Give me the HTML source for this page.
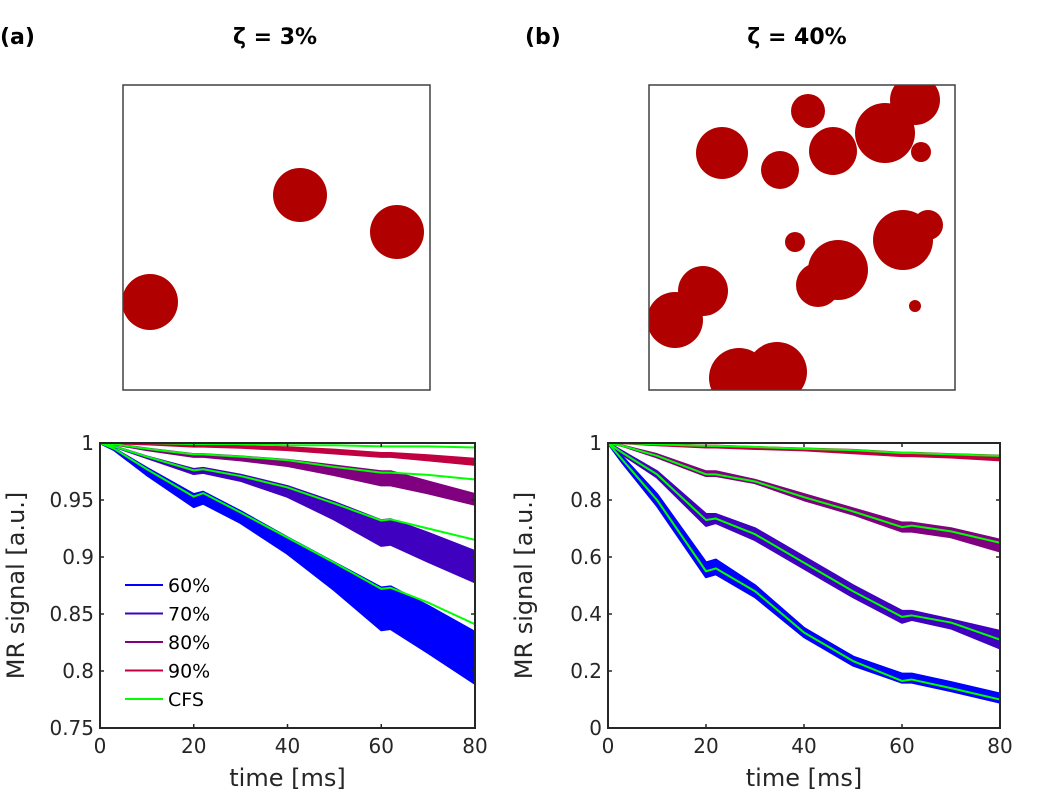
<!DOCTYPE html>
<html><head><meta charset="utf-8"><style>
body{margin:0;background:#fff;width:1050px;height:800px;overflow:hidden}
svg{display:block}
text{font-family:"DejaVu Sans","Liberation Sans",sans-serif;fill:#262626}
</style></head><body>
<svg id="fig" width="1050" height="800">
<text x="0" y="44" font-size="22" font-weight="bold" style="fill:#000">(a)</text>
<text x="275" y="44" font-size="22" font-weight="bold" text-anchor="middle" style="fill:#000">ζ = 3%</text>
<text x="525" y="44" font-size="22" font-weight="bold" style="fill:#000">(b)</text>
<text x="797" y="44" font-size="22" font-weight="bold" text-anchor="middle" style="fill:#000">ζ = 40%</text>
<g id="imgA"></g>
<g id="imgB"></g>
<g id="chartA"></g>
<g id="chartB"></g>
</svg>
<script>
const NS="http://www.w3.org/2000/svg";
const times=[0,3,10,20,22,30,40,50,60,62,70,80];
const xTicks=[0,20,40,60,80];
const seriesNames=["60%","70%","80%","90%"];
const seriesColors=["#0000ff","#4000c0","#800080","#c00040"];
const cfsColor="#00ff00";
// chart A
const a60U=[1,0.995,0.978,0.955,0.957,0.940,0.917,0.895,0.873,0.874,0.857,0.834];
const a60L=[1,0.994,0.972,0.944,0.947,0.930,0.903,0.871,0.836,0.837,0.816,0.789];
const a60C=[1,0.995,0.977,0.953,0.956,0.939,0.917,0.895,0.872,0.873,0.860,0.841];
const a70U=[1,0.997,0.988,0.977,0.978,0.972,0.962,0.948,0.932,0.933,0.921,0.905];
const a70L=[1,0.997,0.987,0.973,0.974,0.967,0.953,0.933,0.910,0.911,0.896,0.878];
const a70C=[1,0.997,0.988,0.976,0.977,0.971,0.961,0.947,0.932,0.933,0.925,0.915];
const a80U=[1,0.999,0.995,0.990,0.990,0.988,0.985,0.980,0.975,0.975,0.966,0.955];
const a80L=[1,0.999,0.994,0.988,0.988,0.985,0.980,0.972,0.963,0.963,0.956,0.946];
const a80C=[1,0.999,0.995,0.990,0.990,0.988,0.985,0.979,0.974,0.974,0.972,0.968];
const a90U=[1,1,0.999,0.998,0.998,0.997,0.996,0.994,0.991,0.991,0.989,0.986];
const a90L=[1,1,0.999,0.997,0.997,0.996,0.994,0.991,0.988,0.988,0.985,0.981];
const a90C=[1,1,1,0.999,0.999,0.999,0.998,0.998,0.997,0.997,0.997,0.996];
const aYTicks=[0.75,0.8,0.85,0.9,0.95,1];
const aYLabels=["0.75","0.8","0.85","0.9","0.95","1"];
// chart B
const b60U=[1,0.95,0.82,0.58,0.59,0.50,0.35,0.25,0.19,0.19,0.16,0.12];
const b60L=[1,0.93,0.78,0.53,0.54,0.46,0.32,0.22,0.16,0.16,0.13,0.09];
const b60C=[1,0.94,0.80,0.55,0.56,0.48,0.335,0.235,0.165,0.17,0.14,0.10];
const b70U=[1,0.97,0.90,0.75,0.75,0.70,0.60,0.50,0.41,0.41,0.38,0.34];
const b70L=[1,0.96,0.88,0.71,0.72,0.66,0.56,0.46,0.37,0.38,0.35,0.28];
const b70C=[1,0.965,0.89,0.73,0.735,0.68,0.58,0.48,0.39,0.395,0.37,0.31];
const b80U=[1,0.99,0.96,0.90,0.90,0.87,0.82,0.77,0.72,0.72,0.70,0.66];
const b80L=[1,0.99,0.95,0.885,0.885,0.86,0.80,0.75,0.69,0.69,0.67,0.62];
const b80C=[1,0.99,0.955,0.89,0.89,0.865,0.81,0.76,0.705,0.71,0.69,0.65];
const b90U=[1,1,0.995,0.99,0.99,0.985,0.98,0.975,0.965,0.965,0.96,0.955];
const b90L=[1,1,0.993,0.985,0.985,0.98,0.975,0.965,0.955,0.955,0.95,0.94];
const b90C=[1,1,0.995,0.99,0.99,0.986,0.98,0.975,0.965,0.965,0.96,0.955];
const bYTicks=[0,0.2,0.4,0.6,0.8,1];
const bYLabels=["0","0.2","0.4","0.6","0.8","1"];
// geometry circles [cx, cy, r] in image px
const circlesA=[[300,195,27],[397,232,27],[150,302,28]];
const circlesB=[[808,111,17],[915,100,25],[885,133,30],[722,153,26],[833,151,24],[780,170,19],[921,152,10],[928,225,15],[903,240,30],[795,242,10],[838,270,30],[818,285,22],[703,291,25],[675,320,28],[915,306,6],[739,378,30],[777,372,30]];

function mk(tag,attrs,parent){const e=document.createElementNS(NS,tag);for(const k in attrs)e.setAttribute(k,attrs[k]);parent.appendChild(e);return e;}

function drawImage(g,box,circles){
  const cp=mk("clipPath",{id:g.id+"clip"},g);
  mk("rect",{x:box[0],y:box[1],width:box[2],height:box[3]},cp);
  const inner=mk("g",{"clip-path":"url(#"+g.id+"clip)"},g);
  circles.forEach(c=>{
    const e=mk("circle",{cx:c[0],cy:c[1],r:c[2],fill:"#b00000"},inner);
    
    
  });
  const f=mk("rect",{x:box[0],y:box[1],width:box[2],height:box[3],fill:"none",stroke:"#404040","stroke-width":1.5},g);
  
  
}
drawImage(document.getElementById("imgA"),[123,85,307,305],circlesA);
drawImage(document.getElementById("imgB"),[649,85,306,305],circlesB);

function drawChart(g,L,R,T,B,ymin,ymax,yTicks,yLabels,bands,cfs,legend){
  const xs=t=>L+(t-0)/(80-0)*(R-L);
  const ys=v=>B-(v-ymin)/(ymax-ymin)*(B-T);
  const cp=mk("clipPath",{id:g.id+"clip"},g);
  mk("rect",{x:L,y:T,width:R-L,height:B-T},cp);
  const plot=mk("g",{"clip-path":"url(#"+g.id+"clip)"},g);
  bands.forEach((b,i)=>{
    let pts=times.map((t,j)=>xs(t)+","+ys(b[0][j]));
    let low=times.map((t,j)=>xs(t)+","+ys(b[1][j])).reverse();
    const p=mk("polygon",{points:pts.concat(low).join(" "),fill:seriesColors[i],stroke:seriesColors[i],"stroke-width":2.5,"stroke-linejoin":"round"},plot);
    
    
  });
  cfs.forEach((c,i)=>{
    const p=mk("polyline",{points:times.map((t,j)=>xs(t)+","+ys(c[j])).join(" "),fill:"none",stroke:cfsColor,"stroke-width":2,"stroke-linejoin":"round"},plot);
    
    
  });
  const ax=mk("rect",{x:L,y:T,width:R-L,height:B-T,fill:"none",stroke:"#262626","stroke-width":2},g);
  
  
  xTicks.forEach(t=>{
    mk("line",{x1:xs(t),x2:xs(t),y1:B,y2:B-4,stroke:"#262626","stroke-width":1.5},g);
    mk("line",{x1:xs(t),x2:xs(t),y1:T,y2:T+4,stroke:"#262626","stroke-width":1.5},g);
    const tx=mk("text",{x:xs(t),y:B+25,"font-size":20,"text-anchor":"middle"},g);
    tx.textContent=t;
    
    
  });
  yTicks.forEach((v,i)=>{
    mk("line",{x1:L,x2:L+4,y1:ys(v),y2:ys(v),stroke:"#262626","stroke-width":1.5},g);
    mk("line",{x1:R,x2:R-4,y1:ys(v),y2:ys(v),stroke:"#262626","stroke-width":1.5},g);
    const tx=mk("text",{x:L-6,y:ys(v)+7,"font-size":20,"text-anchor":"end"},g);
    tx.textContent=yLabels[i];
    
    
  });
  const xt=mk("text",{x:(L+R)/2,y:B+58,"font-size":24,"text-anchor":"middle"},g);
  xt.textContent="time [ms]";
  
  
  const yt=mk("text",{x:0,y:0,"font-size":24,"text-anchor":"middle",transform:"translate("+(g.id==="chartA"?24:532)+","+((T+B)/2)+") rotate(-90)"},g);
  yt.textContent="MR signal [a.u.]";
  
  
  if(legend){
    const names=seriesNames.concat(["CFS"]);
    const cols=seriesColors.concat([cfsColor]);
    names.forEach((n,i)=>{
      const y=585+i*28.5;
      const ln=mk("line",{x1:125,x2:163,y1:y,y2:y,stroke:cols[i],"stroke-width":2},g);
      
      
      const tx=mk("text",{x:168,y:y+7,"font-size":19,style:"fill:#000"},g);
      tx.textContent=n;
      
      
    });
  }
}
drawChart(document.getElementById("chartA"),100,475,443,728,0.75,1,aYTicks,aYLabels,
  [[a60U,a60L],[a70U,a70L],[a80U,a80L],[a90U,a90L]],[a60C,a70C,a80C,a90C],true);
drawChart(document.getElementById("chartB"),608,1000,443,728,0,1,bYTicks,bYLabels,
  [[b60U,b60L],[b70U,b70L],[b80U,b80L],[b90U,b90L]],[b60C,b70C,b80C,b90C],false);
</script>
</body></html>
